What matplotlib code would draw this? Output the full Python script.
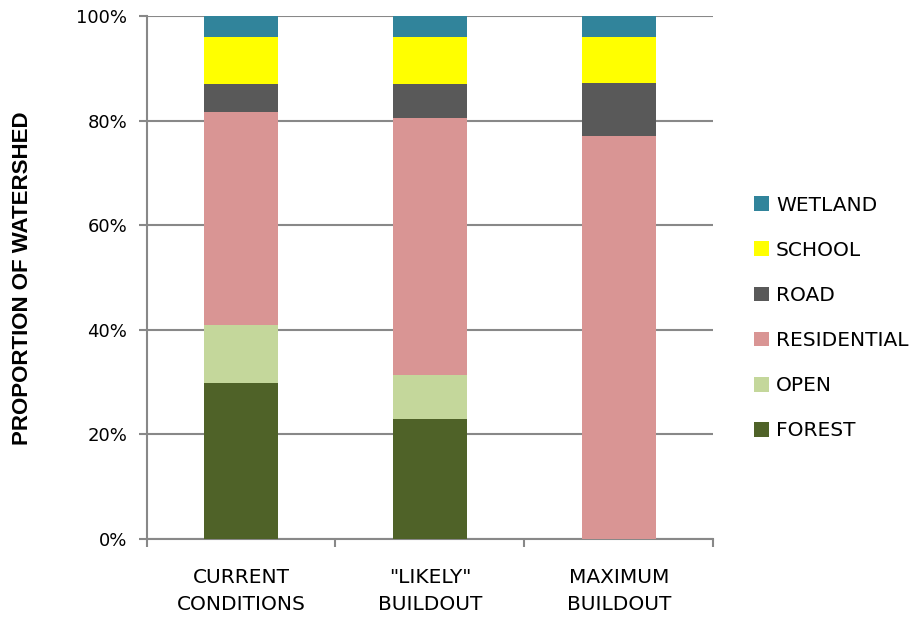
import numpy as np
import matplotlib.pyplot as plt
from matplotlib.ticker import PercentFormatter

# land use share (%), bottom to top
scenarios = ['CURRENT\nCONDITIONS', '"LIKELY"\nBUILDOUT', 'MAXIMUM\nBUILDOUT']
forest = [29.8, 23.0, 0.0]
open_space = [11.1, 8.4, 0.0]
residential = [40.8, 49.1, 77.1]
road = [5.3, 6.5, 10.0]
school = [8.9, 8.9, 8.9]
wetland = [4.1, 4.1, 4.1]

layers = [('FOREST', forest, '#4F6228'),
          ('OPEN', open_space, '#C4D79B'),
          ('RESIDENTIAL', residential, '#D99594'),
          ('ROAD', road, '#595959'),
          ('SCHOOL', school, '#FFFF00'),
          ('WETLAND', wetland, '#31849B')]

plt.rcParams['font.family'] = ['DejaVu Sans']

fig = plt.figure(figsize=(9.16, 6.22), dpi=100)
ax = fig.add_axes([0.160, 0.1334, 0.6187, 0.8409])

x = np.arange(len(scenarios))
bottom = np.zeros(len(scenarios))
for name, vals, col in layers:
    ax.bar(x, vals, width=0.39, bottom=bottom, color=col, label=name, zorder=3)
    bottom += np.array(vals)

ax.set_xlim(-0.5, 2.5)
ax.set_ylim(0, 100)
ax.set_yticks(np.arange(0, 101, 20))
ax.yaxis.set_major_formatter(PercentFormatter(decimals=0))
ax.set_xticks(x)
ax.set_xticklabels(scenarios, fontsize=14.5, linespacing=1.55)
ax.set_xticks([-0.5, 0.5, 1.5, 2.5], minor=True)
ax.tick_params(axis='x', which='major', length=0, pad=21)
ax.tick_params(axis='x', which='minor', length=6, width=1.5, color='#888888')
ax.tick_params(axis='y', length=6, width=1.5, color='#888888', labelsize=13, pad=8)

ax.grid(axis='y', color='#888888', linewidth=1.5, zorder=0)
for s in ['top', 'right']:
    ax.spines[s].set_visible(False)
for s in ['left', 'bottom']:
    ax.spines[s].set_color('#888888')
    ax.spines[s].set_linewidth(1.5)

fig.text(0.025, 0.553, 'PROPORTION OF WATERSHED', rotation=90, fontsize=16,
         fontweight='bold', ha='center', va='center', family=['Liberation Sans', 'DejaVu Sans'])

handles, labels = ax.get_legend_handles_labels()
fig.legend(handles[::-1], labels[::-1], loc='center left', bbox_to_anchor=(0.823, 0.4887),
           frameon=False, fontsize=14.5, handlelength=0.75, handleheight=0.75,
           handletextpad=0.35, labelspacing=1.3, borderpad=0, borderaxespad=0)

fig.savefig('out.png', dpi=100)
